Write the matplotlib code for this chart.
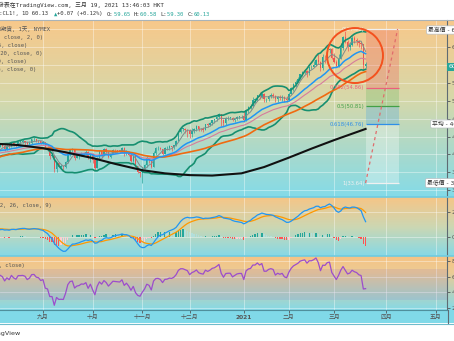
import numpy as np
import pandas as pd
import matplotlib
matplotlib.use("Agg")
import matplotlib.pyplot as plt
from matplotlib.patches import Ellipse, Rectangle
from matplotlib.lines import Line2D
from matplotlib.colors import to_rgb

plt.rcParams["font.family"] = ["DejaVu Sans", "Noto Sans CJK TC"]
MONO = ["DejaVu Sans Mono", "Noto Sans CJK TC"]

# NYMEX CL1! daily closes, 2020-05-18 .. 2021-03-19 (May-Jul only feed the averages)
close_may = [31.82, 32.50, 33.49, 33.92, 33.25, 33.30, 34.35, 32.81, 33.71, 35.49]
close_jun = [35.44, 36.81, 37.29, 37.41, 39.55, 38.19, 38.94, 39.60, 36.34, 36.26, 37.12,
             38.38, 37.96, 38.84, 39.75, 40.46, 40.37, 38.01, 38.72, 38.49, 39.70, 39.27]
close_jul = [39.82, 40.65, 40.65, 40.63, 40.62, 40.90, 39.62, 40.55, 40.10, 40.29, 41.20, 40.75,
             40.59, 40.81, 41.96, 41.90, 41.07, 41.29, 41.60, 41.04, 41.27, 39.92, 40.27]
close_aug = [41.01, 41.70, 42.19, 41.95, 41.22, 41.94, 41.61, 42.67, 42.24, 42.01, 42.89,
             42.89, 42.93, 42.82, 42.34, 42.62, 43.35, 43.39, 43.04, 42.97, 42.61]
close_sep = [42.76, 41.51, 41.37, 39.77, 39.77, 36.76, 38.05, 37.30, 37.33, 37.26, 38.28,
             40.16, 40.97, 41.11, 39.31, 39.80, 39.93, 40.31, 40.25, 40.60, 39.29, 40.22]
close_oct = [38.72, 37.05, 39.22, 40.67, 39.95, 41.19, 40.60, 39.43, 40.20, 41.04, 40.96,
             40.88, 40.83, 41.46, 40.03, 40.64, 39.85, 38.56, 39.57, 37.39, 36.17, 35.79]
close_nov = [36.81, 37.66, 39.15, 38.79, 37.14, 40.29, 41.36, 41.45, 41.12, 40.13, 41.34,
             41.43, 41.82, 41.74, 42.15, 43.06, 44.91, 45.71, 45.71, 45.53, 45.34]
close_dec = [44.55, 45.28, 45.64, 46.26, 45.76, 45.60, 45.52, 46.78, 46.57, 46.99, 47.62, 47.82,
             48.36, 49.10, 47.74, 47.02, 48.12, 48.23, 48.23, 47.62, 48.00, 48.40, 48.52]
close_jan = [48.52, 47.62, 49.93, 50.63, 50.83, 52.24, 52.25, 53.21, 52.91, 53.57, 52.36,
             52.36, 52.98, 53.24, 53.13, 52.27, 52.77, 52.61, 52.85, 52.34, 52.20]
close_feb = [53.55, 54.76, 55.69, 56.23, 56.85, 57.97, 58.36, 58.68, 58.24, 59.47,
             59.47, 60.05, 61.14, 60.52, 59.24, 61.70, 61.67, 63.22, 63.53, 61.50]
close_mar = [60.64, 59.75, 61.28, 63.83, 66.09, 65.05, 64.01, 64.44, 66.02, 65.61,
             65.39, 64.80, 64.60, 60.00, 60.13]
last_open = 59.65

# highs / lows of the visible candles, 2020-08-03 .. 2021-03-19
highs = [41.60, 42.00, 42.50, 42.50, 42.05, 42.10, 42.30, 42.80, 42.90, 42.40, 43.00,
         43.05, 43.45, 43.00, 42.85, 43.00, 43.50, 43.80, 43.55, 43.30, 43.10,
         43.00, 42.80, 41.80, 41.40, 40.00, 39.80, 38.30, 38.40, 37.80, 37.60, 38.50,
         40.20, 41.30, 41.40, 41.20, 40.00, 40.20, 40.50, 40.50, 40.90, 40.70, 40.40,
         40.30, 38.90, 39.40, 41.00, 40.80, 41.40, 41.40, 40.60, 40.30, 41.20, 41.20,
         41.00, 41.10, 41.60, 41.60, 40.90, 40.80, 39.90, 39.80, 39.60, 37.50, 36.20,
         37.20, 37.90, 39.60, 39.20, 38.80, 40.70, 41.60, 42.00, 41.60, 41.30, 41.60,
         41.80, 42.10, 42.00, 42.20, 43.20, 45.20, 46.00, 45.80, 45.90, 45.60,
         45.60, 46.00, 46.00, 46.60, 46.20, 46.00, 46.10, 46.90, 47.00, 47.20, 47.80, 48.00,
         48.60, 49.30, 48.40, 47.90, 48.30, 48.60, 48.30, 48.40, 48.20, 48.60, 48.60,
         48.70, 49.80, 50.20, 50.90, 51.30, 52.80, 52.70, 53.30, 53.90, 53.90, 53.60,
         52.60, 53.20, 53.60, 53.70, 53.30, 53.00, 53.20, 53.30, 53.00, 53.10,
         53.90, 55.00, 56.00, 56.60, 57.30, 58.00, 58.60, 58.90, 58.80, 59.80,
         60.00, 60.90, 61.30, 62.30, 60.80, 62.30, 62.20, 63.50, 63.80, 63.80,
         62.60, 61.00, 62.30, 64.90, 66.40, 67.98, 65.60, 65.00, 66.40, 66.40,
         65.90, 65.50, 65.00, 64.70, 60.58]
lows = [40.00, 40.90, 41.80, 41.60, 40.80, 41.10, 41.20, 41.60, 42.00, 41.60, 42.00,
        42.40, 42.50, 42.10, 41.80, 42.10, 42.40, 42.90, 42.70, 42.50, 42.30,
        42.30, 41.40, 40.70, 39.10, 39.40, 36.10, 36.20, 37.10, 36.90, 36.60, 36.90,
        38.20, 39.60, 40.50, 38.80, 39.20, 38.90, 39.70, 39.80, 39.80, 39.00, 38.40,
        38.10, 36.60, 36.90, 39.10, 39.20, 40.00, 40.30, 39.20, 39.30, 40.00, 40.40,
        40.50, 40.60, 40.70, 39.60, 39.90, 39.60, 38.40, 38.40, 37.20, 35.90, 34.90,
        33.64, 36.70, 37.30, 38.00, 36.90, 37.30, 39.90, 41.00, 40.90, 39.80, 40.10,
        40.90, 41.10, 40.80, 41.30, 42.00, 43.00, 44.80, 45.20, 44.80, 44.00,
        43.60, 43.90, 44.90, 45.30, 45.20, 45.20, 45.00, 45.60, 46.20, 46.40, 46.60, 47.00,
        47.50, 48.00, 46.40, 46.30, 46.60, 47.60, 48.00, 47.40, 47.30, 47.80, 47.90,
        48.20, 47.30, 47.40, 49.30, 50.20, 50.70, 51.50, 51.90, 52.40, 52.70, 51.60,
        51.80, 52.00, 52.60, 52.60, 51.60, 51.80, 52.10, 52.00, 51.60, 51.60,
        52.00, 53.40, 54.20, 55.00, 56.10, 57.00, 57.60, 58.00, 57.30, 57.70,
        59.00, 59.50, 59.80, 60.10, 58.60, 58.80, 60.40, 60.70, 62.60, 61.20,
        60.30, 59.50, 59.50, 61.60, 63.30, 64.80, 63.10, 63.20, 64.20, 64.80,
        64.50, 64.00, 63.60, 58.90, 59.30]

# slow black average
slow_dates = ["2020-08-03", "2020-08-17", "2020-09-01", "2020-09-15", "2020-10-01",
              "2020-10-15", "2020-11-02", "2020-11-16", "2020-12-01", "2020-12-15",
              "2021-01-01", "2021-01-15", "2021-02-01", "2021-02-15", "2021-03-01", "2021-03-19"]
slow_vals = [42.4, 42.1, 41.4, 40.5, 39.2, 37.9, 36.5, 35.8, 35.4, 35.3,
             35.8, 37.2, 39.3, 41.3, 43.2, 45.7]

fib_labels = ["0", "0.382", "0.5", "0.618", "1"]
fib_prices = [67.98, 54.86, 50.81, 46.76, 33.64]
fib_colors = ["#f0f0f0", "#ec5f7c", "#43a047", "#2f8fe8", "#f0f0f0"]
fib_fills = ["#f23645", "#4caf50", "#2196f3", "#ffffff"]

month_dates = ["2020-09-01", "2020-10-01", "2020-11-02", "2020-12-01", "2021-01-04",
               "2021-02-01", "2021-03-01", "2021-04-01", "2021-05-03"]
month_labels = ["九月", "十月", "十一月", "十二月", "2021", "二月", "三月", "四月", "五月"]

closes = np.array(close_may + close_jun + close_jul + close_aug + close_sep + close_oct
                  + close_nov + close_dec + close_jan + close_feb + close_mar)
dates = pd.bdate_range("2020-05-18", "2021-03-19")
assert len(dates) == len(closes)
c = pd.Series(closes, index=dates)
n = len(c)
x = np.arange(n)
opens = c.shift(1).to_numpy()
opens[-1] = last_open

ma5 = c.rolling(5).mean()
ema20 = c.ewm(span=20, adjust=False).mean()
ema30 = c.ewm(span=30, adjust=False).mean()
ma50 = c.rolling(50).mean()
bb_mid = c.rolling(20).mean()
bb_sd = c.rolling(20).std(ddof=0)
macd = c.ewm(span=12, adjust=False).mean() - c.ewm(span=26, adjust=False).mean()
signal = macd.ewm(span=9, adjust=False).mean()
hist = macd - signal
delta = c.diff()
gain = delta.clip(lower=0).ewm(alpha=1 / 14, adjust=False).mean()
loss = (-delta.clip(upper=0)).ewm(alpha=1 / 14, adjust=False).mean()
rsi = 100 - 100 / (1 + gain / loss)

full = pd.bdate_range("2020-05-18", "2021-05-31")
mx = [full.get_loc(pd.Timestamp(d)) for d in month_dates]
i_sep = mx[0]
xl = (i_sep - 19.06, i_sep + 179.08)

W, H = 454, 341
fig = plt.figure(figsize=(W / 100, H / 100), dpi=100)
fig.patch.set_facecolor("white")


def box(top, bottom, left=0, right=W):
    return [left / W, 1 - bottom / H, (right - left) / W, (bottom - top) / H]


def gradient(stops, steps=200):
    pos = [p for p, _ in stops]
    cols = np.array([to_rgb(col) for _, col in stops])
    t = np.linspace(0, 1, steps)
    rgb = np.stack([np.interp(t, pos, cols[:, k]) for k in range(3)], axis=1)
    return rgb[:, None, :]


def panel_bg(top, bottom, stops):
    bg = fig.add_axes(box(top, bottom), zorder=0)
    bg.imshow(gradient(stops), aspect="auto", extent=[0, 1, 0, 1], origin="upper")
    bg.axis("off")


def style(ax, yt, fmt):
    ax.set_facecolor("none")
    for s in ("top", "left", "bottom"):
        ax.spines[s].set_visible(False)
    ax.spines["right"].set_color("#5f6b73")
    ax.spines["right"].set_linewidth(0.8)
    ax.yaxis.tick_right()
    ax.set_yticks(yt)
    ax.set_yticklabels([fmt.format(v) for v in yt])
    ax.tick_params(axis="y", length=2, width=0.6, colors="#555555", labelsize=4.5, pad=1.5)
    ax.tick_params(axis="x", length=0, labelbottom=False)
    ax.set_xlim(xl)
    for v in yt:
        ax.axhline(v, color="white", alpha=0.45, lw=0.6, zorder=0)
    for m in mx:
        ax.axvline(m, color="white", alpha=0.45, lw=0.6, zorder=0)


def ptext(px, py, s, **kw):
    fig.text(px / W, 1 - py / H, s, **kw)


# backgrounds
panel_bg(20, 197, [(0, "#f8c88a"), (0.45, "#d6d8aa"), (1, "#84dbe8")])
panel_bg(197, 256, [(0, "#f6c586"), (0.5, "#cdd7b2"), (1, "#86d9e6")])
panel_bg(256, 310, [(0, "#f6c384"), (0.3, "#eccb94"), (1, "#86d9e6")])
fig.add_artist(Rectangle((0, 1 - 323 / H), 1, 13 / H, transform=fig.transFigure,
                         facecolor="#80d9e8", edgecolor="none", zorder=0))
fig.add_artist(Line2D([0, 1], [1 - 20 / H] * 2, transform=fig.transFigure, color="#a9b3b8", lw=0.8))
fig.add_artist(Line2D([0, 1], [1 - 323.5 / H] * 2, transform=fig.transFigure, color="#6fbccb", lw=0.8))
for yy in (197, 256):
    fig.add_artist(Line2D([0, 1], [1 - yy / H] * 2, transform=fig.transFigure, color="#6fcbe0", lw=1.2))
fig.add_artist(Line2D([447.5 / W] * 2, [1 - 323 / H, 1 - 310 / H], transform=fig.transFigure,
                      color="#5f6b73", lw=0.8))

# ---- main price panel
ax = fig.add_axes(box(20, 197, 0, 447), zorder=1)
style(ax, np.arange(32, 72, 4), "{:.2f}")
ax.set_ylim(30.52, 69.99)

c0 = dates.get_loc(pd.Timestamp("2020-08-03"))
cx = x[c0:]
co = opens[c0:]
cc = closes[c0:]
up = cc >= co
ccol = np.where(up, "#26a69a", "#ef5350")
body_lo = np.minimum(co, cc)
body_h = np.maximum(np.abs(cc - co), 0.12)
ax.vlines(cx, np.minimum(lows, body_lo), np.maximum(highs, body_lo + body_h), color=ccol, lw=0.5, zorder=3)
ax.bar(cx, body_h, bottom=body_lo, width=0.62, color=ccol, lw=0, zorder=3)

ax.plot(x, bb_mid + 2 * bb_sd, color="#168f70", lw=1.2, zorder=4)
ax.plot(x, bb_mid - 2 * bb_sd, color="#168f70", lw=1.2, zorder=4)
ax.plot(x, ma5, color="#7f8c8d", lw=0.7, zorder=4)
ax.plot(x, ema30, color="#d67c9c", lw=0.8, zorder=4)
ax.plot(x, ma50, color="#f06a10", lw=1.2, zorder=4)
ax.plot(x, ema20, color="#2196f3", lw=1.1, zorder=4)
sx = [dates.get_loc(pd.Timestamp(d)) for d in slow_dates]
ax.plot(sx, slow_vals, color="#111111", lw=1.5, zorder=4)

# fib retracement box
fx0, fx1 = n - 1, n - 1 + 14.6
for k in range(4):
    ax.fill_between([fx0, fx1], fib_prices[k], fib_prices[k + 1], color=fib_fills[k],
                    alpha=0.22 if k < 3 else 0.3, lw=0, zorder=1)
for lab, p, col in zip(fib_labels, fib_prices, fib_colors):
    ax.hlines(p, fx0, fx1, color=col, lw=0.9, zorder=2)
    ax.text(fx0 - 0.5, p, f"{lab}({p:.2f})", ha="right", va="center", fontsize=3.8, color=col, zorder=5)
ax.plot([fx0, fx1 - 0.4], [fib_prices[-1], fib_prices[0]], ls=(0, (2.5, 2.5)), color="#e06c6c", lw=0.9, zorder=5)

ax.add_patch(Ellipse((i_sep + 138.3, 62.07), 24.8, 12.26, fill=False, ec="#f4511e", lw=1.4, zorder=6))

# ---- MACD panel
am = fig.add_axes(box(198, 256, 0, 447), zorder=1)
style(am, [0, 2], "{:.2f}")
am.set_ylim(-1.52, 3.12)
prev = hist.shift(1)
hcol = np.where(hist >= 0, np.where(hist > prev, "#26a69a", "#b2dfdb"),
                np.where(hist < prev, "#ff5252", "#ffcdd2"))
am.bar(x, hist, width=0.6, color=hcol, lw=0, zorder=2)
am.plot(x, signal, color="#ff9800", lw=0.9, zorder=3)
am.plot(x, macd, color="#2196f3", lw=0.9, zorder=3)

# ---- RSI panel
ar = fig.add_axes(box(257, 310, 0, 447), zorder=1)
style(ar, [20, 40, 60, 80], "{:.2f}")
ar.set_ylim(17.2, 85.1)
ar.axhspan(30, 70, color="#7e57c2", alpha=0.13, lw=0, zorder=0)
ar.plot(x, rsi, color="#9c4dcc", lw=0.9, zorder=3)
ar.spines["bottom"].set_visible(True)
ar.spines["bottom"].set_color("#4f8f9c")
ar.spines["bottom"].set_linewidth(0.8)
ar.set_xticks(mx)
ar.set_xticklabels(month_labels)
ar.tick_params(axis="x", length=2, width=0.6, colors="#555555", labelsize=4.2, pad=1.5, labelbottom=True)
for t in ar.get_xticklabels():
    if t.get_text() == "2021":
        t.set_fontweight("bold")

# ---- texts
ptext(-2.5, 5, "發表在TradingView.com, 三月 19, 2021 13:46:03 HKT", family=MONO, fontsize=4.2,
      color="#333333", va="center")
cw = 0.602 * 4.0 * 100 / 72
pieces = [("NYMEX:CL1!, 1D 60.13 ", "#333333"), ("▲", "#26a69a"), ("+0.07 (+0.12%) ", "#333333"),
          ("O:", "#333333"), ("59.65 ", "#26a69a"), ("H:", "#333333"), ("60.58 ", "#26a69a"),
          ("L:", "#333333"), ("59.30 ", "#26a69a"), ("C:", "#333333"), ("60.13", "#26a69a")]
pos = -5 * cw
for s, col in pieces:
    ptext(pos, 14, s, family=MONO, fontsize=4.0, color=col, va="center")
    pos += len(s) * cw

legend_rows = [(50, 29, "原油期貨, 1天, NYMEX"), (43, 37, "BB (20, close, 2, 0)"),
               (27, 45, "MA (5, close)"), (42, 53, "EMA (20, close, 0)"),
               (27, 61, "EMA (30, close)"), (36, 69, "MA (50, simple, close, 0)"),
               (52, 205, "MACD (12, 26, close, 9)"), (25, 265, "RSI (14, close)")]
for ex, ey, s in legend_rows:
    ptext(ex, ey, s, family=MONO, fontsize=4.0, color="#555555", ha="right", va="center")

tag = dict(boxstyle="round,pad=0.25", facecolor="white", edgecolor="#b8bec2", lw=0.5)
ptext(428, 30, "最高價 - 67.98", fontsize=4.2, color="#333333", va="center", bbox=tag)
ptext(432, 124, "平均 - 46.81", fontsize=4.2, color="#333333", va="center", bbox=tag)
ptext(427, 183, "最低價 - 33.64", fontsize=4.2, color="#333333", va="center", bbox=tag)
ptext(449, 67, "60.13", fontsize=4.5, color="white", va="center",
      bbox=dict(boxstyle="square,pad=0.3", facecolor="#26a69a", edgecolor="none"))

ptext(20, 333, "TradingView", fontsize=4.6, color="#333333", ha="right", va="center")

fig.savefig("out.png", dpi=100)
